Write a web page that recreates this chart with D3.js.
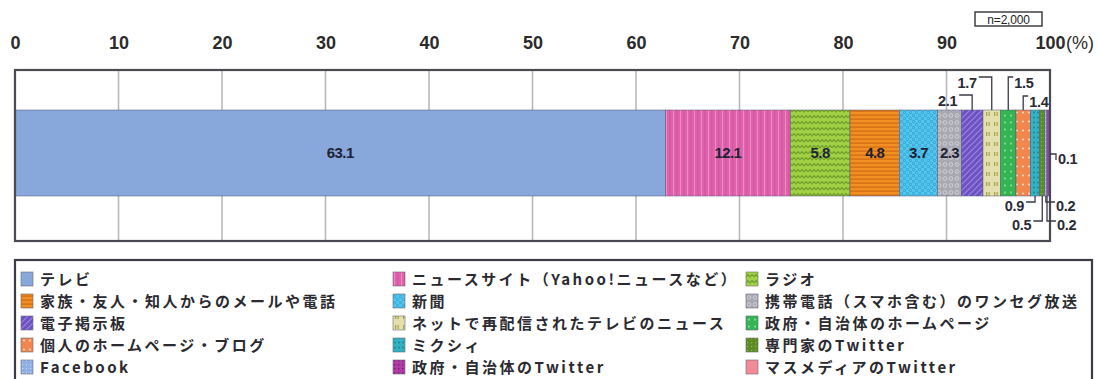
<!DOCTYPE html>
<html>
<head>
<meta charset="utf-8">
<script src="https://cdn.jsdelivr.net/npm/d3@7/dist/d3.min.js"></script>
<style>
  html, body { margin: 0; padding: 0; background: #fff; }
  svg { display: block; }
  .tick text { font-family: "Liberation Sans", Arial, sans-serif; font-weight: bold; }
</style>
</head>
<body>
<svg id="chart" width="1099" height="379"></svg>
<script>
// ---- data ----------------------------------------------------------
const categories = [
  "テレビ",
  "ニュースサイト（Yahoo!ニュースなど）",
  "ラジオ",
  "家族・友人・知人からのメールや電話",
  "新聞",
  "携帯電話（スマホ含む）のワンセグ放送",
  "電子掲示板",
  "ネットで再配信されたテレビのニュース",
  "政府・自治体のホームページ",
  "個人のホームページ・ブログ",
  "ミクシィ",
  "専門家のTwitter",
  "Facebook",
  "政府・自治体のTwitter",
  "マスメディアのTwitter"
];
const values = [63.1, 12.1, 5.8, 4.8, 3.7, 2.3, 2.1, 1.7, 1.5, 1.4, 0.9, 0.5, 0.2, 0.2, 0.1];
const tickValues = [0, 10, 20, 30, 40, 50, 60, 70, 80, 90, 100];
const sampleNote = "n=2,000";

// ---- styling per category (fill patterns) ---------------------------
const styles = [
  { id: "tv",     base: "#88a7da" },
  { id: "news",   base: "#e062ac" },
  { id: "radio",  base: "#a3d145" },
  { id: "family", base: "#f28f22" },
  { id: "paper",  base: "#52c7ef" },
  { id: "oneseg", base: "#a9a9b2" },
  { id: "bbs",    base: "#6d52c2" },
  { id: "netv",   base: "#e3e0ae" },
  { id: "govhp",  base: "#35b454" },
  { id: "blog",   base: "#f3864f" },
  { id: "mixi",   base: "#32b2c2" },
  { id: "expert", base: "#5c8c22" },
  { id: "fb",     base: "#8fb0e2" },
  { id: "govtw",  base: "#b13ca6" },
  { id: "mass",   base: "#f38b97" }
];

// labels drawn inside the bar (index list)
const insideLabels = [0, 1, 2, 3, 4, 5];

// ---- layout --------------------------------------------------------
const frame = { left: 15, right: 1050, top: 70, bottom: 241 };
const barTop = 110, barBottom = 196;

const svg = d3.select("#chart");
const defs = svg.append("defs");

// pattern builders
function pat(id, w, h, base, draw) {
  const p = defs.append("pattern").attr("id", "p-" + id)
    .attr("patternUnits", "userSpaceOnUse").attr("width", w).attr("height", h);
  p.append("rect").attr("width", w).attr("height", h).attr("fill", base);
  if (draw) draw(p);
}
pat("tv", 4, 4, styles[0].base);
pat("news", 7, 6, styles[1].base, p => {
  p.append("rect").attr("x", 1).attr("width", 1).attr("height", 6).attr("fill", "#ee8ac6");
  p.append("rect").attr("x", 4.5).attr("width", 0.8).attr("height", 6).attr("fill", "#c94d98");
});
pat("radio", 8, 6, styles[2].base, p => {
  p.append("path").attr("d", "M0,4 L2,1.5 L4,4 L6,1.5 L8,4")
    .attr("fill", "none").attr("stroke", "#6f9f2a").attr("stroke-width", 1.2);
});
pat("family", 6, 4, styles[3].base, p => {
  p.append("rect").attr("y", 2.5).attr("width", 6).attr("height", 1.2).attr("fill", "#cf6a10");
});
pat("paper", 6, 6, styles[4].base, p => {
  p.append("circle").attr("cx", 1.5).attr("cy", 1.5).attr("r", 1.2).attr("fill", "none").attr("stroke", "#2f97c8").attr("stroke-width", 0.8);
  p.append("circle").attr("cx", 4.5).attr("cy", 4.5).attr("r", 1.2).attr("fill", "none").attr("stroke", "#2f97c8").attr("stroke-width", 0.8);
});
pat("oneseg", 6, 7, styles[5].base, p => {
  p.append("circle").attr("cx", 3).attr("cy", 3.5).attr("r", 1.8).attr("fill", "none").attr("stroke", "#d2d2da").attr("stroke-width", 0.9);
});
pat("bbs", 6, 6, styles[6].base, p => {
  p.append("path").attr("d", "M-1,7 L7,-1 M-4,4 L4,-4 M2,10 L10,2")
    .attr("stroke", "#9c87e2").attr("stroke-width", 1.1);
});
pat("netv", 8, 10, styles[7].base, p => {
  p.append("rect").attr("x", 2).attr("y", 2).attr("width", 1.2).attr("height", 4).attr("fill", "#a3a34a");
  p.append("rect").attr("x", 4.5).attr("y", 2).attr("width", 1.2).attr("height", 4).attr("fill", "#a3a34a");
});
pat("govhp", 6, 7, styles[8].base, p => {
  p.append("rect").attr("x", 2).attr("y", 2.5).attr("width", 2).attr("height", 2).attr("fill", "#7bd68f");
});
pat("blog", 6, 9, styles[9].base, p => {
  p.append("circle").attr("cx", 3).attr("cy", 4.5).attr("r", 1).attr("fill", "#fde0c8");
});
pat("mixi", 4, 5, styles[10].base, p => {
  p.append("circle").attr("cx", 2).attr("cy", 2.5).attr("r", 0.9).attr("fill", "#1e7f92");
});
pat("expert", 4, 4, styles[11].base, p => {
  p.append("rect").attr("x", 1).attr("y", 1).attr("width", 1.2).attr("height", 1.2).attr("fill", "#86b44a");
});
pat("fb", 4, 4, styles[12].base, p => {
  p.append("rect").attr("x", 1).attr("y", 1).attr("width", 1.2).attr("height", 1.2).attr("fill", "#c4d6f2");
});
pat("govtw", 4, 4, styles[13].base, p => {
  p.append("rect").attr("x", 1).attr("y", 1).attr("width", 1.4).attr("height", 1.4).attr("fill", "#7a1f72");
});
pat("mass", 4, 4, styles[14].base);

// ---- scales --------------------------------------------------------
// Axis scale for the percent grid
const x = d3.scaleLinear().domain([0, 100]).range([frame.left, frame.right]);
// The stacked shares fill the full frame width
const total = d3.sum(values);
const xs = d3.scaleLinear().domain([0, total]).range([frame.left, frame.right]);

const stacked = [];
let acc = 0;
values.forEach((v, i) => { stacked.push({ i, v, x0: acc, x1: acc + v }); acc += v; });

// ---- frame background & gridlines ----------------------------------
svg.append("rect")
  .attr("x", frame.left).attr("y", frame.top)
  .attr("width", frame.right - frame.left).attr("height", frame.bottom - frame.top)
  .attr("fill", "#fff");

svg.append("g").selectAll("line")
  .data(tickValues.filter(t => t > 0 && t < 100))
  .join("line")
  .attr("x1", d => x(d)).attr("x2", d => x(d))
  .attr("y1", frame.top).attr("y2", frame.bottom)
  .attr("stroke", "#b9b9bd").attr("stroke-width", 1.6);

// ---- stacked bar ---------------------------------------------------
svg.append("g").selectAll("rect")
  .data(stacked)
  .join("rect")
  .attr("x", d => xs(d.x0))
  .attr("y", barTop)
  .attr("width", d => xs(d.x1) - xs(d.x0))
  .attr("height", barBottom - barTop)
  .attr("fill", d => `url(#p-${styles[d.i].id})`)
  .attr("stroke", "#55557a")
  .attr("stroke-width", 0.5);

// ---- frame border --------------------------------------------------
svg.append("rect")
  .attr("x", frame.left).attr("y", frame.top)
  .attr("width", frame.right - frame.left).attr("height", frame.bottom - frame.top)
  .attr("fill", "none").attr("stroke", "#4a4a55").attr("stroke-width", 2.2);

// ---- top axis labels -----------------------------------------------
const axis = d3.axisTop(x).tickValues(tickValues).tickSize(0).tickPadding(0)
  .tickFormat(d => d);
const axisG = svg.append("g").attr("transform", `translate(0, 49)`).call(axis);
axisG.select(".domain").remove();
axisG.selectAll(".tick text")
  .attr("font-size", 18).attr("fill", "#2b2b2b").attr("dy", 0);
// percent unit after the last tick
svg.append("text")
  .attr("x", x(100) + 16).attr("y", 49)
  .attr("font-family", "Liberation Sans, Arial, sans-serif")
  .attr("font-size", 18).attr("fill", "#2b2b2b")
  .text("(%)");

// sample size box
svg.append("rect").attr("x", 975).attr("y", 12).attr("width", 67).attr("height", 14)
  .attr("fill", "#fff").attr("stroke", "#333").attr("stroke-width", 1.4);
svg.append("text").attr("x", 1008.5).attr("y", 23.5).attr("text-anchor", "middle")
  .attr("font-family", "Liberation Sans, Arial, sans-serif").attr("font-size", 12)
  .attr("letter-spacing", -0.2)
  .attr("fill", "#222").text(sampleNote);

// ---- value labels inside the bar -----------------------------------
const numFont = "Liberation Sans, Arial, sans-serif";
svg.append("g").selectAll("text")
  .data(stacked.filter(d => insideLabels.includes(d.i)))
  .join("text")
  .attr("x", d => xs((d.x0 + d.x1) / 2))
  .attr("y", (barTop + barBottom) / 2 + 5)
  .attr("text-anchor", "middle")
  .attr("font-family", numFont).attr("font-weight", "bold")
  .attr("font-size", 15).attr("letter-spacing", -0.6)
  .attr("fill", "#1e2235")
  .text(d => d.v.toFixed(1));

// ---- value labels outside with leader lines ------------------------
// side: where the label sits; ly: label line height; dir: text side of the leader
const outside = [
  { i: 6,  side: "top",    ly: 95,  dir: "left"  },
  { i: 7,  side: "top",    ly: 77,  dir: "left"  },
  { i: 8,  side: "top",    ly: 77,  dir: "right" },
  { i: 9,  side: "top",    ly: 96,  dir: "right" },
  { i: 10, side: "bottom", ly: 202, dir: "left"  },
  { i: 11, side: "bottom", ly: 221, dir: "left"  },
  { i: 12, side: "bottom", ly: 202, dir: "right" },
  { i: 13, side: "bottom", ly: 221, dir: "right" },
  { i: 14, side: "mid",    ly: 154, dir: "right" }
];
const lg = svg.append("g");
outside.forEach(o => {
  const d = stacked[o.i];
  let cx = xs((d.x0 + d.x1) / 2);
  const edgeY = o.side === "top" ? barTop : barBottom;
  let path, tx, anchor;
  if (o.side === "mid") {
    cx = frame.right;
    path = `M${cx},${o.ly} H${cx + 6} V${o.ly + 6}`;
    tx = cx + 8; anchor = "start";
  } else if (o.dir === "left") {
    const gap = o.side === "top" ? 13 : 9;
    path = `M${cx - gap},${o.ly} H${cx} V${edgeY}`;
    tx = cx - gap - 2; anchor = "end";
  } else {
    const hx = o.side === "top" ? cx + 5 : Math.max(cx, frame.right - 3) + 8;
    const vx = o.side === "top" ? cx : Math.min(cx, frame.right - 3);
    path = `M${vx},${edgeY} V${o.ly} H${hx}`;
    tx = hx + 1; anchor = "start";
  }
  lg.append("path").attr("d", path).attr("fill", "none")
    .attr("stroke", "#3a3a48").attr("stroke-width", 1.3);
  lg.append("text")
    .attr("x", tx).attr("y", o.ly + (o.side === "top" ? 11 : o.side === "mid" ? 10 : 9))
    .attr("text-anchor", anchor)
    .attr("font-family", numFont).attr("font-weight", "bold")
    .attr("font-size", 14.5).attr("letter-spacing", -0.3)
    .attr("fill", "#2a2a35")
    .text(d.v.toFixed(1));
});

// ---- legend --------------------------------------------------------
const legend = { left: 15, right: 1092, top: 260, bottom: 382 };
svg.append("rect")
  .attr("x", legend.left).attr("y", legend.top)
  .attr("width", legend.right - legend.left).attr("height", legend.bottom - legend.top)
  .attr("fill", "#fff").attr("stroke", "#3c3c46").attr("stroke-width", 2.2);

const colX = [21, 393, 746];
const rowY = d3.scaleLinear().domain([0, 4]).range([279, 367]);
const items = svg.append("g").selectAll("g")
  .data(categories.map((c, i) => ({ c, i })))
  .join("g")
  .attr("transform", d => `translate(${colX[d.i % 3]}, ${rowY(Math.floor(d.i / 3))})`);
items.append("rect")
  .attr("x", 0).attr("y", -7).attr("width", 12).attr("height", 14)
  .attr("fill", d => `url(#p-${styles[d.i].id})`)
  .attr("stroke", "#6a6a7a").attr("stroke-width", 0.6);
items.append("text")
  .attr("x", 19).attr("y", 5.5)
  .attr("font-family", "Noto Sans CJK JP, sans-serif")
  .attr("font-weight", "bold").attr("font-size", 15)
  .attr("letter-spacing", 2.5)
  .attr("fill", "#2a2a30")
  .text(d => d.c);
</script>
</body>
</html>
